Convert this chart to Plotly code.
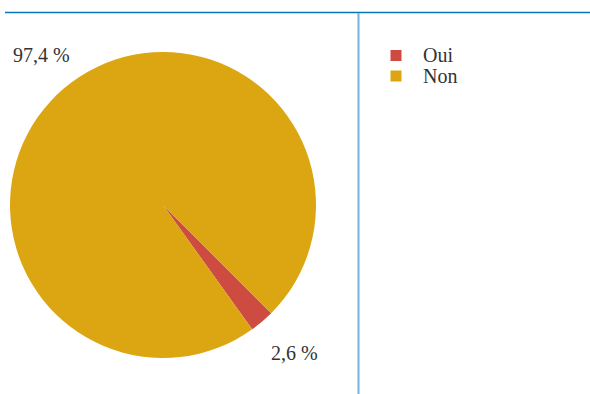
import math
import plotly.graph_objects as go

# Survey answers
labels = ["Oui", "Non"]
values = [2.6, 97.4]
colors = ["#cd4b40", "#dca512"]
value_texts = ["2,6 %", "97,4 %"]

W, H = 590, 394
FONT = "'Liberation Serif', 'Times New Roman', Times, serif"
FONT_SIZE = 20
TEXT_COLOR = "#333333"

# pie geometry in pixels (paper coordinates with zero margins)
cx, cy, r = 163.0, 205.0, 153.0
rotation = 135.0


def px_x(x):
    return x / W


def px_y(y):
    return (H - y) / H


fig = go.Figure()
fig.add_trace(go.Pie(
    labels=labels,
    values=values,
    marker=dict(colors=colors, line=dict(width=0)),
    sort=False,
    direction="clockwise",
    rotation=rotation,
    textinfo="none",
    hoverinfo="label+percent",
    showlegend=False,
    domain=dict(x=[px_x(cx - r), px_x(cx + r)], y=[px_y(cy + r), px_y(cy - r)]),
))

annotations = []
shapes = []

# value labels outside each slice, at the slice mid-angle
total = sum(values)
start = rotation
for v, t in zip(values, value_texts):
    mid = start + 360.0 * v / total / 2
    start += 360.0 * v / total
    a = math.radians(mid)
    R = r * 1.275
    lx = cx + 5 + R * math.sin(a)
    ly = cy - 1 - R * math.cos(a)
    annotations.append(dict(
        x=px_x(lx), y=px_y(ly), xref="paper", yref="paper",
        text=t, showarrow=False, xanchor="center", yanchor="middle",
        font=dict(family=FONT, size=FONT_SIZE, color=TEXT_COLOR),
    ))

# legend: coloured squares with the category names
leg_x, leg_y, leg_step, sq = 396.0, 55.5, 20.5, 11.0
for i, (lab, col) in enumerate(zip(labels, colors)):
    yc = leg_y + i * leg_step
    shapes.append(dict(
        type="rect", xref="paper", yref="paper",
        x0=px_x(leg_x - sq / 2), x1=px_x(leg_x + sq / 2),
        y0=px_y(yc + sq / 2), y1=px_y(yc - sq / 2),
        fillcolor=col, line=dict(width=0),
    ))
    annotations.append(dict(
        x=px_x(421), y=px_y(yc), xref="paper", yref="paper",
        text=lab, showarrow=False, xanchor="left", yanchor="middle",
        font=dict(family=FONT, size=FONT_SIZE, color=TEXT_COLOR),
    ))

# frame rules
shapes += [
    dict(type="line", xref="paper", yref="paper",
         x0=px_x(5), x1=1, y0=px_y(12.5), y1=px_y(12.5),
         line=dict(color="#0a78b8", width=1.5)),
    dict(type="line", xref="paper", yref="paper",
         x0=px_x(358.5), x1=px_x(358.5), y0=0, y1=px_y(13),
         line=dict(color="#72b4da", width=2)),
]

fig.update_layout(
    width=W, height=H,
    margin=dict(l=0, r=0, t=0, b=0),
    paper_bgcolor="white",
    plot_bgcolor="white",
    font=dict(family=FONT, size=FONT_SIZE, color=TEXT_COLOR),
    showlegend=False,
    annotations=annotations,
    shapes=shapes,
)

fig.write_html("out.html")
